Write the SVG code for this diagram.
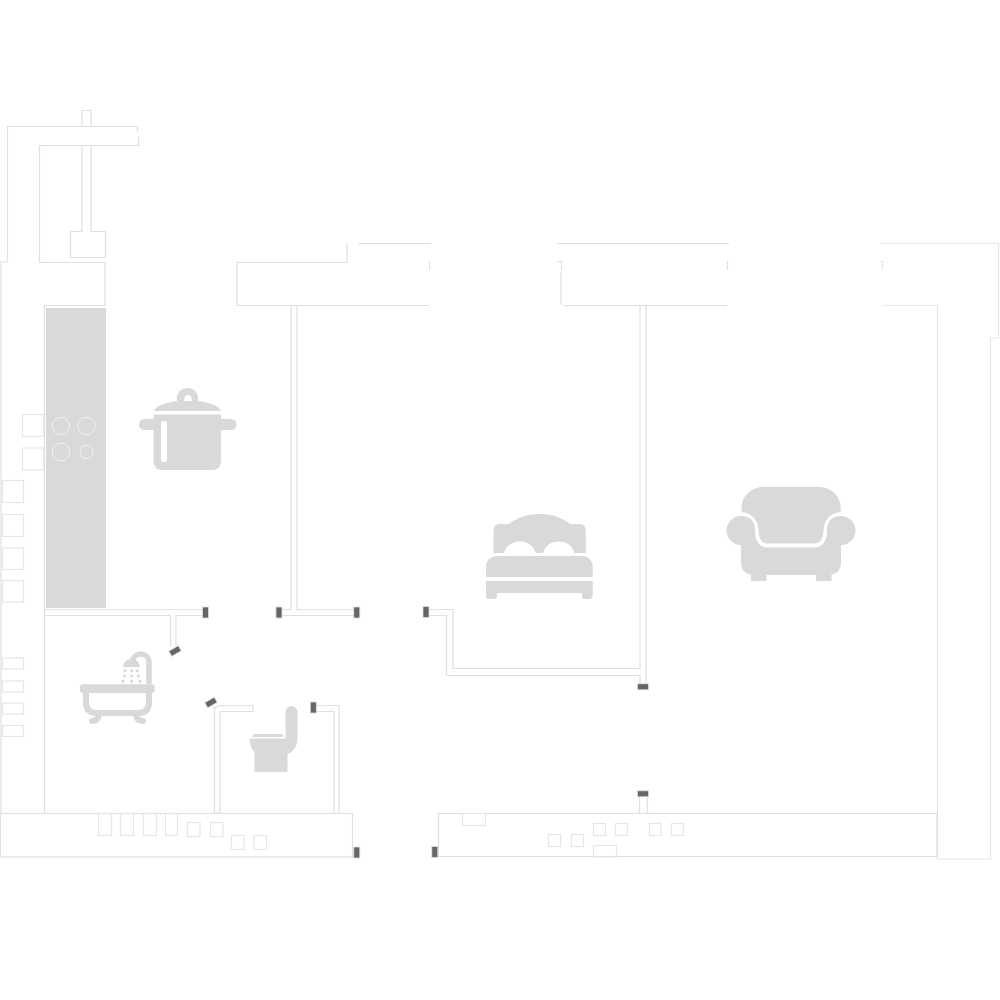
<svg xmlns="http://www.w3.org/2000/svg" width="1000" height="1000" viewBox="0 0 1000 1000">
<style>
.w{fill:none;stroke:#e0e0e0;stroke-width:1.200}
.f{fill:none;stroke:#e6e6e6;stroke-width:1.200}
.i{fill:#d9d9d9}
.d{fill:#666;stroke:#ddd;stroke-width:.8}
.s{fill:none;stroke:#d9d9d9}
</style>
<rect width="1000" height="1000" fill="#fff"/>
<g id="walls">
<path class="w" d="M0 262H7.500V126.500H137.500V132M138.500 137V145.500H39.500V262.500H105V305.500H44.500V813"/>
<path class="w" d="M82 126V110.500H91V126M82 145V231.500H70.500V257.500H105.500V231.500H91V145"/>
<path d="M1 262V813" fill="none" stroke="#ececec" stroke-width="2"/>
<path class="w" d="M237 305.500V262.500H347V243M358 243.500H431M429.500 261V270M237 305.500H429M557 243.500H729M557 261.500H561.500V270M561 272V305M563 305.500H727M727.500 261V270"/>
<path class="f" d="M880 243.500H998.500V338H990.500V859H937.500V305.500H883M880 261.500H882.500V270"/>
<path class="w" d="M44 609.500H203M44 615.500H170.500V646M176 646V615.500H203"/>
<path class="w" d="M291 305V609.500H281M297 305V609.500H354M281 615.500H354"/>
<path class="w" d="M428 609.500H453V668.500H640V305M428 615.500H446.500V675.500H640V683M646 305V683"/>
<path class="w" d="M214.500 813V708L211 704M220 813V711.500H253V705.500H219L215 708M214.500 813H220"/>
<path class="w" d="M316 705.500H339V813M316 711.500H334V813"/>
<path class="w" d="M639.500 797V813M647.500 797V813"/>
<rect class="w" x="0.500" y="813.500" width="352" height="43.500"/>
<path class="w" d="M438.500 856V813.500H937V856.500H438.500"/>
</g>
<g id="kitchen">
<rect x="46" y="308" width="60" height="300" fill="#d9d9d9"/>
<g fill="none" stroke="#f2f2f2" stroke-width="1">
<circle cx="61" cy="426" r="8.700"/><circle cx="86.500" cy="426" r="8.700"/><circle cx="61" cy="452" r="8.700"/><circle cx="86.500" cy="452" r="6.500"/>
</g>
</g>
<g id="fixtures" class="f">
<rect x="22.500" y="414.500" width="21" height="22"/><rect x="22.500" y="448" width="21" height="22"/>
<rect x="2.500" y="480.500" width="21" height="22"/><rect x="2.500" y="514.500" width="21" height="22"/><rect x="2.500" y="548" width="21" height="21.500"/><rect x="2.500" y="580.500" width="21" height="21.500"/>
<rect x="2.500" y="658" width="21" height="11"/><rect x="2.500" y="681" width="21" height="11"/><rect x="2.500" y="703" width="21" height="11"/><rect x="2.500" y="725.500" width="21" height="11"/>
<rect x="98.500" y="813.500" width="13" height="22"/><rect x="120.500" y="813.500" width="13" height="22"/><rect x="143.500" y="813.500" width="13" height="22"/><rect x="165.500" y="813.500" width="12" height="22"/>
<rect x="187.500" y="822.500" width="12.500" height="14"/><rect x="210.500" y="822.500" width="12.500" height="14"/><rect x="231.500" y="835.500" width="12.500" height="14"/><rect x="254" y="835.500" width="12.500" height="14"/>
<rect x="462.500" y="813.500" width="23" height="12"/><rect x="548.500" y="834.500" width="12" height="12"/><rect x="571.500" y="834.500" width="12" height="12"/><rect x="593.500" y="823.500" width="12" height="12"/><rect x="615.500" y="823.500" width="12" height="12"/><rect x="649.500" y="823.500" width="11.500" height="12"/><rect x="671.500" y="823.500" width="12" height="12"/><rect x="593.500" y="845.500" width="23" height="11.500"/>
</g>
<g id="doors">
<rect class="d" x="202.500" y="607" width="6" height="11"/>
<rect class="d" x="276" y="607" width="6" height="11"/>
<rect class="d" x="353.800" y="607" width="6" height="11"/>
<rect class="d" x="423" y="606.500" width="6" height="11"/>
<rect class="d" x="637.500" y="683.800" width="11" height="6"/>
<rect class="d" x="637.500" y="790.800" width="11" height="6"/>
<rect class="d" x="353.800" y="847" width="6" height="11"/>
<rect class="d" x="431.800" y="846.500" width="6" height="11"/>
<rect class="d" x="310.300" y="702" width="6" height="11"/>
<rect class="d" x="-5.500" y="-3" width="11" height="6" transform="translate(175 651) rotate(-30)"/>
<rect class="d" x="-5.500" y="-3" width="11" height="6" transform="translate(211 702.500) rotate(-30)"/>
</g>
<g id="pot">
<path class="i" d="M154 411C156 405 168 402 177 401C176 393 181 388 187.500 388C194 388 199 393 198 401C207 402 219 405 221 411ZM184 401H192C192 397 190 395 188 395C186 395 184 397 184 401Z" fill-rule="evenodd"/>
<path class="i" d="M153.500 414.500H221V419H231A5.500 5.500 0 0 1 231 430H221V460C221 466 219 470 212 470H163C156 470 153.500 466 153.500 460V430H144.500A5.500 5.500 0 0 1 144.500 419H153.500Z"/>
<rect x="161" y="421" width="6" height="41" rx="2.500" fill="#fff"/>
</g>
<g id="bed">
<path class="i" d="M493.500 553V530C493.500 526 497 524 500 524H509C516 518 527 514 539.500 514C552 514 563 518 570 524H579C583 524 585.700 526 585.700 530V553H574C573 546 567 541.500 558.500 541.500C551 541.500 545 546 543 553H535.700C534 546 528 541.500 520 541.500C512 541.500 505.500 546 504 553Z"/>
<path class="i" d="M486 577V567C486 560 491 556 497 556H582C588 556 592.700 560 592.700 567V577Z"/>
<path class="i" d="M486 581H592.700V596C592.700 598 591 599 589 599H585.500C583 599 582 598 582 596V593H497V596C497 598 495.500 599 493.500 599H489.500C487 599 486 598 486 596Z"/>
</g>
<g id="armchair">
<path class="i" d="M741.700 512V508C741.700 495 752 486.700 765 486.700H817C830 486.700 840.700 495 840.700 508V512C830 513 824 520 823.500 530C823 540 820 543.500 814 543.500H768C762 543.500 759 540 758.500 530C758 520 752 513 741.700 512Z"/>
<path class="i" d="M741 516A14.500 14.500 0 0 0 741 545V563C741 570 746 575 753 575H829C836 575 841 570 841 563V545A14.500 14.500 0 0 0 841 516C831 516 827 522 827 530C827 541 823 547.500 814 547.500H768C759 547.500 755 541 755 530C755 522 751 516 741 516Z"/>
<rect class="i" x="751" y="575" width="15.500" height="6"/><rect class="i" x="816" y="575" width="15.500" height="6"/>
</g>
<g id="bath">
<rect class="i" x="80" y="684.300" width="74.700" height="8.700" rx="3"/>
<path class="s" stroke-width="6" d="M86 692V702Q86 713 97 713H138Q149 713 149 702V692"/>
<path class="s" stroke-width="6" stroke-linecap="round" d="M99 715Q98 721 92 721M136 715Q137 721 143 721"/>
<path class="s" stroke-width="5.500" d="M149 684V661.300A8.300 8.300 0 0 0 132.500 661.300V664"/>
<path class="i" d="M123 667C123 662 127 659 131.500 659C136 659 139.700 662 139.700 667Z"/>
<g class="i"><circle cx="125" cy="670.700" r="1.500"/><circle cx="131.700" cy="670.700" r="1.500"/><circle cx="137.300" cy="670.700" r="1.500"/><circle cx="124.500" cy="676" r="1.500"/><circle cx="131.700" cy="676" r="1.500"/><circle cx="138.300" cy="676" r="1.500"/><circle cx="123" cy="681.300" r="1.500"/><circle cx="131.700" cy="681.300" r="1.500"/><circle cx="140" cy="681.300" r="1.500"/></g>
</g>
<g id="toilet">
<path class="i" d="M249.500 738.500H285.500V712A6 6 0 0 1 297.500 712V738Q297.500 750 287.500 754V772H254.500V752Q250 748 249.500 738.500Z"/>
<rect class="i" x="252.700" y="734" width="30.600" height="3" rx="1"/>
</g>
</svg>
